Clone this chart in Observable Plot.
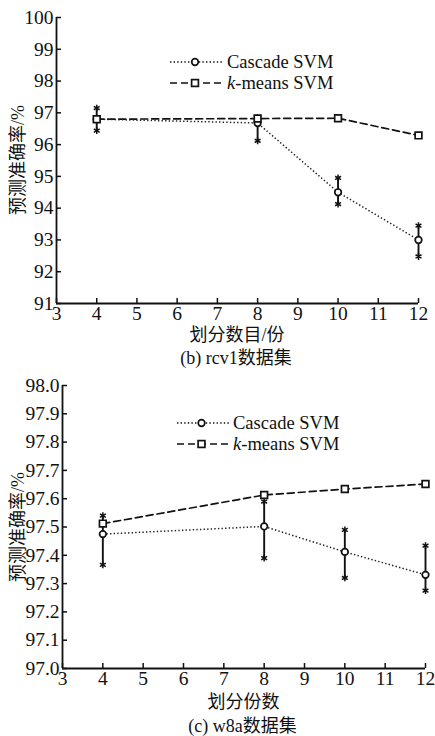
<!DOCTYPE html>
<html>
<head>
<meta charset="utf-8">
<script src="https://cdn.jsdelivr.net/npm/d3@7"></script>
<script src="https://cdn.jsdelivr.net/npm/@observablehq/plot@0.6"></script>
<style>
  html, body { margin: 0; padding: 0; background: #fff; }
  #root { position: relative; width: 435px; height: 736px; overflow: hidden; background: #fff;
          font-family: "Liberation Serif", "Times New Roman", Times, "Noto Sans CJK SC", serif; color: #111; }
  .panel { position: absolute; left: 0; }
  .panel svg, .panel svg text { font-family: "Liberation Serif", "Times New Roman", Times, serif !important; }
  .lbl { position: absolute; white-space: nowrap; font-size: 18px; line-height: 20px; transform: translate(-50%, -50%); }
  .ylbl { position: absolute; white-space: nowrap; font-size: 18px; line-height: 20px;
          transform: translate(-50%, -50%) rotate(-90deg); }
  .leg { position: absolute; font-size: 18.5px; line-height: 20px; white-space: nowrap; }
  .leg svg { position: absolute; left: 0; top: 0; overflow: visible; }
</style>
</head>
<body>
<div id="root"></div>
<script>
// ---------- data ----------
const xTicks = [3, 4, 5, 6, 7, 8, 9, 10, 11, 12];
const seriesNames = ["Cascade SVM", "k-means SVM"];

// (b) rcv1
const rcv1Parts = [4, 8, 10, 12];
const rcv1Cascade = [96.8, 96.68, 94.5, 93.0];
const rcv1CascadeLo = [96.44, 96.12, 94.13, 92.48];
const rcv1CascadeHi = [97.15, 96.85, 94.95, 93.45];
const rcv1Kmeans = [96.8, 96.82, 96.83, 96.29];
const rcv1YTicks = [91, 92, 93, 94, 95, 96, 97, 98, 99, 100];

// (c) w8a
const w8aParts = [4, 8, 10, 12];
const w8aCascade = [97.475, 97.502, 97.412, 97.331];
const w8aCascadeLo = [97.366, 97.39, 97.32, 97.275];
const w8aCascadeHi = [97.54, 97.59, 97.49, 97.434];
const w8aKmeans = [97.512, 97.613, 97.634, 97.652];
const w8aYTicks = [97.0, 97.1, 97.2, 97.3, 97.4, 97.5, 97.6, 97.7, 97.8, 97.9, 98.0];

const root = document.getElementById("root");
const DOT = "1.4,2.2";
const DASH = "7,4";

function makePanel(cfg) {
  const rows = cfg.parts.map((p, i) => ({
    x: p, c: cfg.cascade[i], lo: cfg.lo[i], hi: cfg.hi[i], k: cfg.kmeans[i]
  }));
  const W = 435, H = cfg.height;
  const innerW = W - cfg.ml - cfg.mr;
  const innerH = H - cfg.mt - cfg.mb;
  const plot = Plot.plot({
    width: W, height: H,
    marginLeft: cfg.ml, marginRight: cfg.mr, marginTop: cfg.mt, marginBottom: cfg.mb,
    style: { fontFamily: '"Liberation Serif", "Times New Roman", serif', fontSize: "19.5px", color: "#111", background: "transparent", overflow: "visible" },
    x: { domain: [3, 12] },
    y: { domain: cfg.yDomain },
    marks: [
      // ticks (inward)
      Plot.tickX(xTicks, { x: d => d, insetTop: innerH - 5, strokeWidth: 1.5, stroke: "#111" }),
      Plot.tickY(cfg.yTicks, { y: d => d, insetRight: innerW - 5, strokeWidth: 1.5, stroke: "#111" }),
      // axis lines
      Plot.ruleX([3], { strokeWidth: 1.8, stroke: "#111" }),
      Plot.ruleY([cfg.yDomain[0]], { strokeWidth: 1.8, stroke: "#111" }),
      Plot.axisX({ ticks: xTicks, tickSize: 0, tickPadding: 3, label: null, tickFormat: d => String(d), fontSize: 19.5 }),
      Plot.axisY({ ticks: cfg.yTicks, tickSize: 0, tickPadding: 3, label: null, tickFormat: cfg.yFormat, fontSize: 19.5 }),
      // series lines
      Plot.line(rows, { x: "x", y: "k", stroke: "#111", strokeWidth: 1.7, strokeDasharray: DASH }),
      Plot.line(rows, { x: "x", y: "c", stroke: "#222", strokeWidth: 1.5, strokeDasharray: DOT, strokeLinecap: "butt" }),
      // error bars
      Plot.ruleX(rows, { x: "x", y1: "lo", y2: "hi", stroke: "#111", strokeWidth: 1.9 }),
      Plot.dot(rows, { x: "x", y: "lo", symbol: "asterisk", r: 3.2, stroke: "#111", strokeWidth: 1.5 }),
      Plot.dot(rows, { x: "x", y: "hi", symbol: "asterisk", r: 3.2, stroke: "#111", strokeWidth: 1.5 }),
      // markers
      Plot.dot(rows, { x: "x", y: "c", symbol: "circle", r: 3.3, fill: "white", stroke: "#111", strokeWidth: 1.7 }),
      Plot.dot(rows, { x: "x", y: "k", symbol: "square", r: 3.8, fill: "white", stroke: "#111", strokeWidth: 1.7 })
    ]
  });
  const wrap = document.createElement("div");
  wrap.className = "panel";
  wrap.style.top = cfg.top + "px";
  wrap.style.width = W + "px";
  wrap.style.height = H + "px";
  wrap.appendChild(plot);
  root.appendChild(wrap);

  const add = (cls, html, x, y) => {
    const d = document.createElement("div");
    d.className = cls;
    d.innerHTML = html;
    d.style.left = x + "px";
    d.style.top = y + "px";
    root.appendChild(d);
    return d;
  };
  const cx = cfg.ml + innerW / 2;
  add("ylbl", cfg.yLabel, 18, cfg.top + cfg.mt + innerH / 2);
  add("lbl", cfg.xLabel, cx, cfg.xLabelY);
  add("lbl", cfg.caption, cx - 1, cfg.captionY);

  // legend
  const legItems = [
    { name: seriesNames[0], dash: DOT, sym: "circle", y: cfg.legY[0] },
    { name: "<i>k</i>-means SVM", dash: DASH, sym: "square", y: cfg.legY[1] }
  ];
  legItems.forEach(it => {
    const d = document.createElement("div");
    d.className = "leg";
    d.style.left = cfg.legX + "px";
    d.style.top = (it.y - 10) + "px";
    d.style.height = "20px";
    const sw = cfg.legSwatch;
    const marker = it.sym === "circle"
      ? `<circle cx="${sw / 2 - 2}" cy="10" r="3.3" fill="white" stroke="#111" stroke-width="1.7"/>`
      : `<rect x="${sw / 2 - 2 - 3.4}" y="6.6" width="6.8" height="6.8" fill="white" stroke="#111" stroke-width="1.7"/>`;
    d.innerHTML = `<svg width="${sw}" height="20"><line x1="0" x2="${sw}" y1="10" y2="10" stroke="#111" stroke-width="${it.sym === "circle" ? 1.5 : 1.7}" stroke-dasharray="${it.dash}"/>${marker}</svg>` +
      `<span style="position:absolute;left:${sw + 3}px;top:0">${it.name}</span>`;
    root.appendChild(d);
  });
}

makePanel({
  top: 0, height: 370, ml: 56, mr: 17, mt: 17, mb: 67,
  parts: rcv1Parts, cascade: rcv1Cascade, lo: rcv1CascadeLo, hi: rcv1CascadeHi, kmeans: rcv1Kmeans,
  yDomain: [91, 100], yTicks: rcv1YTicks, yFormat: d => String(d),
  yLabel: "预测准确率/%", xLabel: "划分数目/份", caption: "(b) rcv1数据集",
  xLabelY: 335, captionY: 358,
  legX: 170, legY: [62, 83], legSwatch: 54
});

makePanel({
  top: 370, height: 366, ml: 62, mr: 10, mt: 15, mb: 68,
  parts: w8aParts, cascade: w8aCascade, lo: w8aCascadeLo, hi: w8aCascadeHi, kmeans: w8aKmeans,
  yDomain: [97.0, 98.0], yTicks: w8aYTicks, yFormat: d3.format(".1f"),
  yLabel: "预测准确率/%", xLabel: "划分份数", caption: "(c) w8a数据集",
  xLabelY: 702, captionY: 726,
  legX: 177, legY: [423, 444], legSwatch: 53
});
</script>
</body>
</html>
